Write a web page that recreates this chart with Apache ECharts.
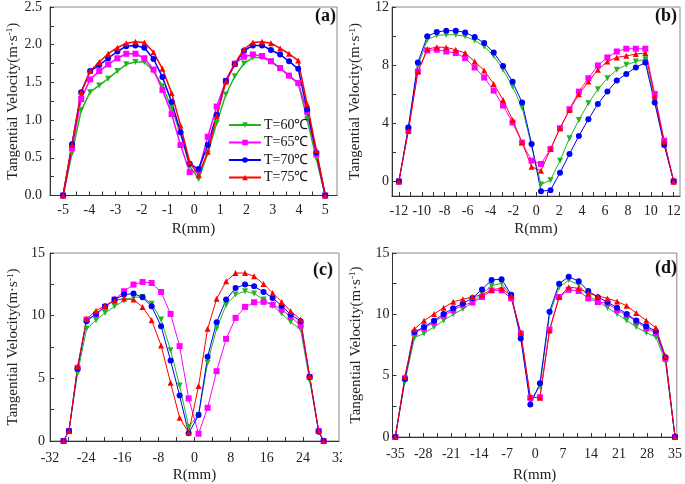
<!DOCTYPE html>
<html><head><meta charset="utf-8">
<script src="https://cdn.jsdelivr.net/npm/echarts@6/dist/echarts.min.js"></script>
<style>html,body{margin:0;padding:0;background:#fff}#c{width:685px;height:484px}</style>
</head><body><div id="c"></div>
<script>
const names = ['T=60℃', 'T=65℃', 'T=70℃', 'T=75℃'];
const colors = ['#22b422', '#ff00ff', '#0000ff', '#ff0000'];

// Panel (a)
const xA = [-5, -4.66, -4.31, -3.97, -3.62, -3.28, -2.93, -2.59, -2.24, -1.9, -1.55, -1.21, -0.86, -0.52, -0.17, 0.17, 0.52, 0.86, 1.21, 1.55, 1.9, 2.24, 2.59, 2.93, 3.28, 3.62, 3.97, 4.31, 4.66, 5];
const a60 = [0, 0.56, 1.13, 1.37, 1.46, 1.55, 1.65, 1.74, 1.77, 1.77, 1.65, 1.45, 1.16, 0.82, 0.39, 0.22, 0.56, 0.96, 1.34, 1.58, 1.75, 1.83, 1.83, 1.78, 1.69, 1.58, 1.49, 1.01, 0.49, 0];
const a65 = [0, 0.63, 1.28, 1.54, 1.65, 1.74, 1.82, 1.88, 1.88, 1.82, 1.67, 1.40, 1.08, 0.67, 0.31, 0.33, 0.78, 1.18, 1.52, 1.75, 1.84, 1.87, 1.85, 1.78, 1.69, 1.59, 1.49, 1.11, 0.55, 0];
const a70 = [0, 0.68, 1.37, 1.65, 1.73, 1.82, 1.91, 1.98, 1.99, 1.96, 1.81, 1.57, 1.24, 0.84, 0.42, 0.35, 0.67, 1.07, 1.52, 1.74, 1.92, 1.99, 1.99, 1.93, 1.87, 1.78, 1.68, 1.14, 0.57, 0];
const a75 = [0, 0.67, 1.37, 1.65, 1.77, 1.88, 1.96, 2.02, 2.04, 2.03, 1.90, 1.68, 1.36, 0.93, 0.44, 0.27, 0.58, 1.05, 1.51, 1.75, 1.94, 2.03, 2.04, 2.02, 1.95, 1.88, 1.79, 1.21, 0.60, 0];

// Panel (b)
const xB = [-12, -11.17, -10.34, -9.52, -8.69, -7.86, -7.03, -6.21, -5.38, -4.55, -3.72, -2.9, -2.07, -1.24, -0.41, 0.41, 1.24, 2.07, 2.9, 3.72, 4.55, 5.38, 6.21, 7.03, 7.86, 8.69, 9.52, 10.34, 11.17, 12];
const b60 = [0, 3.66, 7.95, 9.75, 10.05, 10.09, 10.09, 9.98, 9.70, 9.29, 8.64, 7.68, 6.53, 5.08, 2.44, -0.21, 0.09, 1.43, 2.97, 4.23, 5.38, 6.34, 7.10, 7.68, 8.02, 8.25, 8.41, 5.61, 2.57, 0];
const b65 = [0, 3.54, 7.56, 9.01, 9.06, 8.94, 8.83, 8.48, 7.84, 7.15, 6.25, 5.22, 4.05, 2.67, 1.43, 1.20, 2.23, 3.66, 4.97, 6.18, 7.10, 7.98, 8.53, 8.94, 9.13, 9.13, 9.13, 6.02, 2.80, 0];
const b70 = [0, 3.72, 8.18, 9.98, 10.28, 10.37, 10.37, 10.25, 9.93, 9.52, 8.87, 7.95, 6.85, 5.43, 2.57, -0.67, -0.60, 0.60, 1.89, 3.13, 4.28, 5.33, 6.18, 6.94, 7.40, 7.84, 8.18, 5.43, 2.51, 0];
const b75 = [0, 3.47, 7.56, 9.10, 9.24, 9.22, 9.06, 8.83, 8.25, 7.63, 6.71, 5.61, 4.23, 2.69, 1.01, 0.74, 2.23, 3.66, 4.92, 6.00, 6.87, 7.68, 8.25, 8.53, 8.64, 8.76, 8.83, 5.84, 2.74, 0];

// Panel (c)
const xC = [-29, -27.8, -25.9, -23.9, -21.8, -19.8, -17.7, -15.6, -13.5, -11.5, -9.5, -7.4, -5.3, -3.3, -1.3, 0.9, 2.9, 4.9, 7.0, 9.1, 11.2, 13.2, 15.3, 17.3, 19.3, 21.3, 23.5, 25.5, 27.5, 28.6];
const c60 = [0, 0.8, 5.39, 8.95, 9.64, 10.22, 10.75, 11.20, 11.47, 11.49, 10.96, 9.69, 7.25, 4.43, 1.14, 2.07, 6.24, 8.97, 10.86, 11.68, 11.95, 11.76, 11.28, 10.80, 10.17, 9.50, 8.89, 4.83, 0.74, 0];
const c65 = [0, 0.8, 5.84, 9.69, 10.09, 10.70, 11.28, 11.95, 12.48, 12.69, 12.61, 11.89, 10.14, 7.57, 3.40, 0.58, 2.65, 5.57, 8.15, 9.82, 10.70, 11.07, 11.10, 10.88, 10.49, 9.90, 9.21, 5.10, 0.80, 0];
const c70 = [0, 0.8, 5.76, 9.56, 10.14, 10.75, 11.28, 11.68, 11.76, 11.47, 10.75, 9.16, 6.42, 3.64, 0.61, 2.07, 6.72, 9.48, 11.28, 12.21, 12.48, 12.34, 11.89, 11.41, 10.80, 10.09, 9.56, 5.12, 0.74, 0];
const c75 = [0, 0.8, 5.92, 9.74, 10.40, 10.80, 11.20, 11.36, 11.28, 10.70, 9.64, 7.62, 4.65, 1.86, 0.66, 4.38, 8.95, 11.34, 12.74, 13.40, 13.40, 13.14, 12.53, 11.81, 11.10, 10.35, 9.69, 5.18, 0.80, 0];

// Panel (d)
const xD = [-35, -32.6, -30.2, -27.8, -25.3, -22.9, -20.5, -18.1, -15.7, -13.3, -10.9, -8.4, -6.0, -3.6, -1.2, 1.2, 3.6, 6.0, 8.4, 10.9, 13.3, 15.7, 18.1, 20.5, 22.9, 25.3, 27.8, 30.2, 32.6, 35];
const d60 = [0, 4.51, 8.10, 8.44, 8.97, 9.50, 10.00, 10.43, 10.96, 11.68, 12.34, 12.53, 11.47, 8.30, 2.97, 4.11, 10.00, 12.20, 12.80, 12.40, 11.50, 11.07, 10.54, 10.03, 9.50, 8.97, 8.50, 8.15, 6.16, 0];
const d65 = [0, 4.78, 8.50, 8.89, 9.37, 9.90, 10.35, 10.75, 10.96, 11.41, 11.95, 11.95, 11.30, 8.44, 3.19, 3.24, 8.76, 11.41, 12.00, 11.90, 11.30, 11.00, 10.90, 10.35, 9.95, 9.42, 8.89, 8.50, 6.37, 0];
const d70 = [0, 4.73, 8.55, 8.97, 9.48, 10.03, 10.49, 10.88, 11.34, 12.03, 12.80, 12.87, 11.60, 8.04, 2.65, 4.38, 10.22, 12.50, 13.06, 12.70, 11.90, 11.40, 11.00, 10.54, 10.03, 9.50, 9.03, 8.63, 6.50, 0];
const d75 = [0, 4.91, 8.81, 9.48, 10.03, 10.54, 11.02, 11.23, 11.41, 11.60, 12.00, 12.13, 11.50, 8.50, 3.27, 3.19, 8.68, 11.41, 12.21, 12.13, 11.70, 11.50, 11.30, 11.05, 10.70, 10.10, 9.50, 8.90, 6.60, 0];

// Tick labels and tick positions
const xLabA = [-5, -4, -3, -2, -1, 0, 1, 2, 3, 4, 5];
const xTickA = [-5, -4.5, -4, -3.5, -3, -2.5, -2, -1.5, -1, -0.5, 0, 0.5, 1, 1.5, 2, 2.5, 3, 3.5, 4, 4.5, 5];
const yLabA = [0, 0.5, 1.0, 1.5, 2.0, 2.5];
const yTickA = [0, 0.25, 0.5, 0.75, 1.0, 1.25, 1.5, 1.75, 2.0, 2.25, 2.5];
const xLabB = [-12, -10, -8, -6, -4, -2, 0, 2, 4, 6, 8, 10, 12];
const xTickB = [-12, -11, -10, -9, -8, -7, -6, -5, -4, -3, -2, -1, 0, 1, 2, 3, 4, 5, 6, 7, 8, 9, 10, 11, 12];
const yLabB = [0, 4, 8, 12];
const yTickB = [0, 2, 4, 6, 8, 10, 12];
const xLabC = [-32, -24, -16, -8, 0, 8, 16, 24, 32];
const xTickC = [-28, -24, -20, -16, -12, -8, -4, 0, 4, 8, 12, 16, 20, 24, 28];
const yLabC = [0, 5, 10, 15];
const yTickC = [0, 2.5, 5, 7.5, 10, 12.5, 15];
const xLabD = [-35, -28, -21, -14, -7, 0, 7, 14, 21, 28, 35];
const xTickD = [-35, -31.5, -28, -24.5, -21, -17.5, -14, -10.5, -7, -3.5, 0, 3.5, 7, 10.5, 14, 17.5, 21, 24.5, 28, 31.5, 35];
const yLabD = [0, 5, 10, 15];
const yTickD = [0, 2.5, 5, 7.5, 10, 12.5, 15];

const F = 'Liberation Serif, Times New Roman, serif';
const TXT = '#222';

function xAx(g, min, max, labs, ticks, nameGap, margin) {
  return {
    type: 'value', gridIndex: g, min: min, max: max, position: 'bottom',
    name: 'R(mm)', nameLocation: 'middle', nameGap: nameGap,
    nameTextStyle: { fontFamily: F, fontSize: 15, color: TXT },
    axisLine: { show: true, onZero: false, lineStyle: { color: '#333', width: 1 } },
    axisTick: { show: true, inside: true, length: 4, customValues: ticks, lineStyle: { color: '#333' } },
    axisLabel: { customValues: labs, margin: margin, fontFamily: F, fontSize: 14, color: TXT },
    splitLine: { show: false }
  };
}
function yAx(g, min, max, labs, ticks, nameGap, margin, fmt) {
  return {
    type: 'value', gridIndex: g, min: min, max: max, position: 'left',
    name: 'Tangential Velocity(m·s{sup|-1})', nameLocation: 'middle', nameGap: nameGap,
    nameTextStyle: { fontFamily: F, fontSize: 15, color: TXT,
      rich: { sup: { fontFamily: F, fontSize: 9, color: TXT, verticalAlign: 'top' } } },
    axisLine: { show: true, onZero: false, lineStyle: { color: '#333', width: 1 } },
    axisTick: { show: true, inside: true, length: 4, customValues: ticks, lineStyle: { color: '#333' } },
    axisLabel: { customValues: labs, margin: margin, fontFamily: F, fontSize: 14, color: TXT,
      formatter: fmt || (v => String(v)) },
    splitLine: { show: false }
  };
}

const symbols = ['triangle', 'rect', 'circle', 'triangle'];
const rotations = [180, 0, 0, 0];
const panels = [
  { xs: xA, ys: [a60, a65, a70, a75], lw: 1.5, ss: 6 },
  { xs: xB, ys: [b60, b65, b70, b75], lw: 1, ss: 6 },
  { xs: xC, ys: [c60, c65, c70, c75], lw: 1, ss: 6 },
  { xs: xD, ys: [d60, d65, d70, d75], lw: 1, ss: 6 }
];
const series = [];
panels.forEach((p, gi) => {
  p.ys.forEach((arr, si) => {
    series.push({
      type: 'line', name: names[si], xAxisIndex: gi, yAxisIndex: gi,
      data: p.xs.map((x, i) => [x, arr[i]]),
      symbol: symbols[si], symbolRotate: rotations[si], symbolSize: p.ss,
      showAllSymbol: true, clip: false,
      lineStyle: { color: colors[si], width: p.lw },
      itemStyle: { color: colors[si] },
      emphasis: { disabled: true }, animation: false
    });
  });
});

const gridBase = { show: true, borderColor: '#888', borderWidth: 1, containLabel: false };
const option = {
  animation: false,
  backgroundColor: '#fff',
  grid: [
    Object.assign({ left: 50, top: 6.5, width: 287, height: 189 }, gridBase),
    Object.assign({ left: 392, top: 6.5, width: 288, height: 189.5 }, gridBase),
    Object.assign({ left: 50, top: 253, width: 289, height: 188.7 }, gridBase),
    Object.assign({ left: 392.5, top: 253, width: 288, height: 188.7 }, gridBase)
  ],
  xAxis: [
    xAx(0, -5.5, 5.45, xLabA, xTickA, 26, 8),
    xAx(1, -12.6, 12.55, xLabB, xTickB, 26, 8),
    xAx(2, -32, 32, xLabC, xTickC, 27, 10),
    xAx(3, -35.7, 35.45, xLabD, xTickD, 31, 10)
  ],
  yAxis: [
    yAx(0, 0, 2.5, yLabA, yTickA, 29, 8, v => v.toFixed(1)),
    yAx(1, -1, 12, yLabB, yTickB, 29, 3),
    yAx(2, 0, 15, yLabC, yTickC, 29, 5),
    yAx(3, 0, 15, yLabD, yTickD, 29, 3)
  ],
  legend: {
    show: true, orient: 'vertical', left: 228, top: 118, padding: 0,
    itemWidth: 32, itemHeight: 7, itemGap: 3.5,
    textStyle: { fontFamily: F, fontSize: 14, color: '#111', padding: [0, 0, 0, -2] },
    data: names, selectedMode: false
  },
  graphic: [
    { type: 'text', x: 315, y: 16, z: 100, style: { text: '(a)', font: 'bold 18px Liberation Serif', fill: '#111', verticalAlign: 'middle' } },
    { type: 'text', x: 655, y: 16, z: 100, style: { text: '(b)', font: 'bold 18px Liberation Serif', fill: '#111', verticalAlign: 'middle' } },
    { type: 'text', x: 313, y: 270, z: 100, style: { text: '(c)', font: 'bold 18px Liberation Serif', fill: '#111', verticalAlign: 'middle' } },
    { type: 'text', x: 655, y: 268, z: 100, style: { text: '(d)', font: 'bold 18px Liberation Serif', fill: '#111', verticalAlign: 'middle' } },
    { type: 'rect', z: 100, shape: { x: 342, y: 447, width: 12, height: 20 }, style: { fill: '#fff' } }
  ],
  series: series
};
const chart = echarts.init(document.getElementById('c'), null, { renderer: 'canvas' });
chart.setOption(option);
</script>
</body></html>
